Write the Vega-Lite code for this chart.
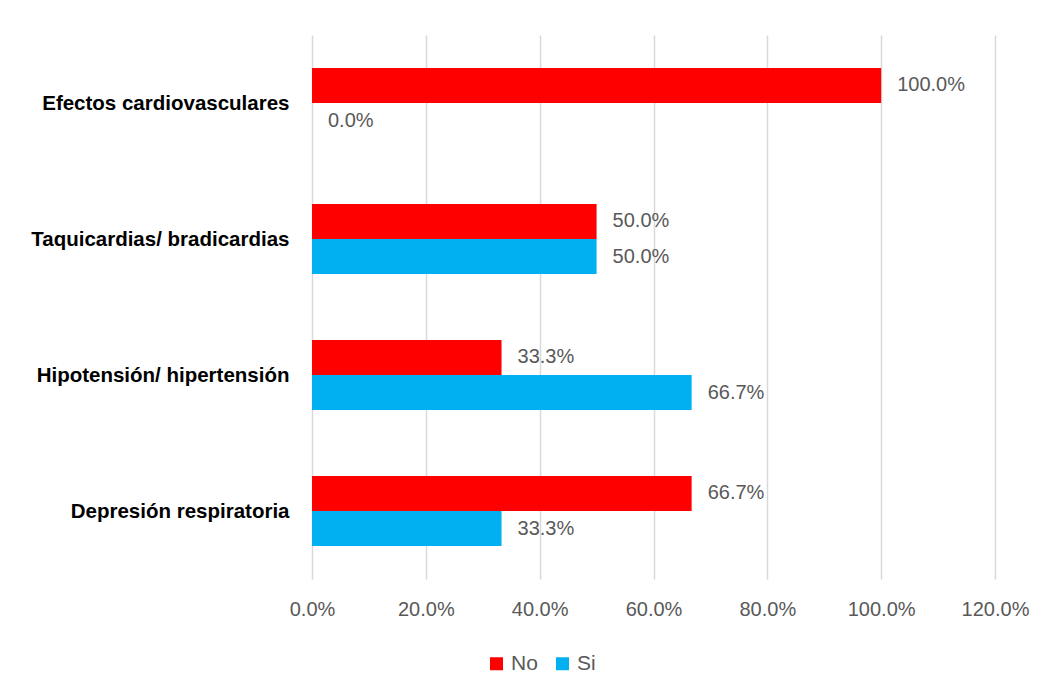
{
  "$schema": "https://vega.github.io/schema/vega-lite/v6.json",
  "autosize": {"type": "none"},
  "padding": {"left": 312, "top": 35, "right": 52, "bottom": 117},
  "width": 683,
  "height": 544,
  "background": "white",
  "config": {
    "view": {"stroke": null},
    "font": "Liberation Sans"
  },
  "data": {
    "values": [
      {"categoria": "Efectos cardiovasculares", "serie": "No", "valor": 1.0},
      {"categoria": "Efectos cardiovasculares", "serie": "Si", "valor": 0.0},
      {"categoria": "Taquicardias/ bradicardias", "serie": "No", "valor": 0.5},
      {"categoria": "Taquicardias/ bradicardias", "serie": "Si", "valor": 0.5},
      {"categoria": "Hipotensión/ hipertensión", "serie": "No", "valor": 0.333},
      {"categoria": "Hipotensión/ hipertensión", "serie": "Si", "valor": 0.667},
      {"categoria": "Depresión respiratoria", "serie": "No", "valor": 0.667},
      {"categoria": "Depresión respiratoria", "serie": "Si", "valor": 0.333}
    ]
  },
  "encoding": {
    "y": {
      "field": "categoria",
      "type": "nominal",
      "sort": ["Efectos cardiovasculares", "Taquicardias/ bradicardias", "Hipotensión/ hipertensión", "Depresión respiratoria"],
      "scale": {"paddingInner": 0.485, "paddingOuter": 0.2425},
      "axis": {
        "title": null,
        "domain": false,
        "ticks": false,
        "labelFont": "Liberation Sans",
        "labelFontWeight": "bold",
        "labelFontSize": 20.5,
        "labelColor": "#000000",
        "labelPadding": 23,
        "labelLimit": 400,
        "labelOffset": 1
      }
    },
    "yOffset": {
      "field": "serie",
      "type": "nominal",
      "sort": ["No", "Si"],
      "scale": {"paddingInner": 0, "paddingOuter": 0}
    },
    "x": {
      "field": "valor",
      "type": "quantitative",
      "scale": {"domain": [0, 1.2], "nice": false},
      "axis": {
        "title": null,
        "format": ".1%",
        "values": [0, 0.2, 0.4, 0.6, 0.8, 1.0, 1.2],
        "domain": false,
        "ticks": false,
        "grid": true,
        "gridColor": "#D9D9D9",
        "gridWidth": 1.5,
        "labelFlush": false,
        "labelOverlap": false,
        "labelFont": "Liberation Sans",
        "labelFontSize": 20,
        "labelColor": "#595959",
        "labelPadding": 20
      }
    }
  },
  "layer": [
    {
      "mark": {"type": "bar"},
      "encoding": {
        "color": {
          "field": "serie",
          "type": "nominal",
          "sort": ["No", "Si"],
          "scale": {"domain": ["No", "Si"], "range": ["#FF0000", "#00B0F0"]},
          "legend": {
            "title": null,
            "orient": "none",
            "direction": "horizontal",
            "legendX": 174,
            "legendY": 618,
            "symbolType": "square",
            "symbolSize": 169,
            "symbolOpacity": 1,
            "symbolStrokeWidth": 0,
            "labelFont": "Liberation Sans",
            "labelFontSize": 21,
            "labelColor": "#595959",
            "labelOffset": 4,
            "columnPadding": 14
          }
        }
      }
    },
    {
      "mark": {"type": "text", "align": "left", "baseline": "middle", "dx": 16, "fontSize": 20, "color": "#595959", "font": "Liberation Sans"},
      "encoding": {
        "text": {"field": "valor", "type": "quantitative", "format": ".1%"}
      }
    }
  ]
}
